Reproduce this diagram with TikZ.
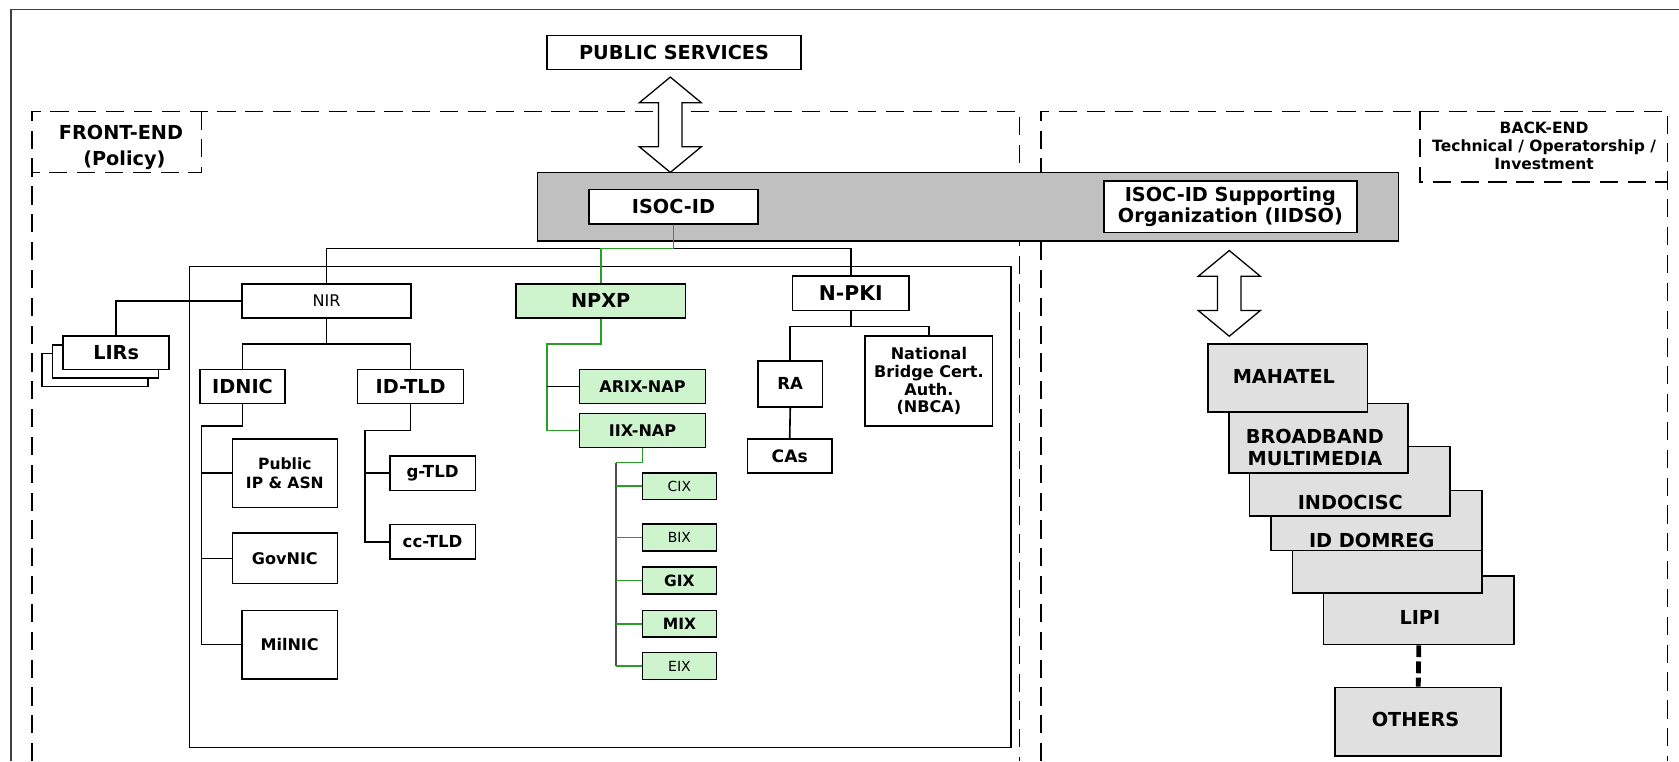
\documentclass[tikz,border=0pt]{standalone}
\usepackage{fontspec}
\setmainfont{DejaVu Sans}
\definecolor{barGray}{RGB}{192,192,192}
\definecolor{stackGray}{RGB}{224,224,224}
\definecolor{nxGreen}{RGB}{206,244,206}
\definecolor{lnGreen}{RGB}{40,160,40}
\tikzset{
  wh/.style 2 args={minimum width=#1pt, minimum height=#2pt},
  txt/.style 2 args={font=\bfseries\fontsize{#1}{#2}\selectfont},
  rtxt/.style 2 args={font=\fontsize{#1}{#2}\selectfont},
  box/.style={draw, line width=1.5pt, fill=white, inner sep=0pt, align=center},
  gbox/.style={box, fill=nxGreen},
  sbox/.style={draw, line width=1.5pt, fill=stackGray, inner sep=0pt},
  stxt/.style={txt={18}{20}, align=center},
  conn/.style={line width=1.5pt},
  gline/.style={line width=1.5pt, draw=lnGreen},
  area/.style={line width=1.3pt, dash pattern=on 17pt off 9pt},
  ixplain/.style={rtxt={13}{13}},
  ixbold/.style={txt={14.5}{14.5}}
}
\begin{document}
\begin{tikzpicture}[x=1pt, y=-1pt]
\useasboundingbox (0,0) rectangle (1568,711);

% frame and the two areas
\draw[line width=1.6pt, black!75] (10,711) -- (10,9) -- (1568,9);
\draw[area] (30,711) -- (30,104) -- (952,104) -- (952,711);
\draw[area] (188,104) -- (188,161) -- (30,161);
\draw[area] (972,711) -- (972,104) -- (1557,104) -- (1557,711);
\draw[area] (1326,104) -- (1326,170) -- (1557,170);
\node[txt={18}{24}, align=center] (frontlbl) at (113,138) {FRONT-END\\\ (Policy)};
\node[txt={14.5}{17}, align=center] (backlbl) at (1442,136) {BACK-END\\Technical / Operatorship /\\Investment};

% top
\node[box, wh={237}{32}, txt={18}{18}] (pub) at (629.5,49) {PUBLIC SERVICES};
\node[draw, line width=1.5pt, fill=barGray, wh={804}{64}] (bar) at (904,193) {};
\node[box, wh={158}{32}, txt={18}{18}] (isoc) at (629,193) {ISOC-ID};
\node[box, wh={236}{48}, txt={18}{20}] (iidso) at (1149,193) {ISOC-ID Supporting\\Organization (IIDSO)};

\foreach \cx/\ya/\yb in {626/72/161, 1148/234/314}
{
    \draw[line width=1.2pt, fill=white] (\cx,\ya) -- (\cx+29,\ya+24) -- (\cx+11,\ya+24) -- (\cx+11,\yb-24)
      -- (\cx+29,\yb-24) -- (\cx,\yb) -- (\cx-29,\yb-24) -- (\cx-11,\yb-24) -- (\cx-11,\ya+24) -- (\cx-29,\ya+24) -- cycle;
}

% policy side
\draw[conn] (177,249) rectangle (944,698);
\node[box, wh={158}{32}, rtxt={15}{15}] (nir) at (305,281) {NIR};
\foreach \i in {2,1}
{
    \node[box, wh={99}{31}] (lirs\i) at (108.5-10*\i,329.5+8*\i) {};
}
\node[box, wh={99}{31}, txt={18}{18}] (lirs) at (108.5,329.5) {LIRs};
\node[box, wh={79}{32}, txt={18}{18}] (idnic) at (226.5,361) {IDNIC};
\node[box, wh={99}{32}, txt={18}{18}] (idtld) at (383.5,361) {ID-TLD};
\node[box, wh={98}{64}, txt={14.5}{17}] (pubip) at (266,442) {Public\\IP \& ASN};
\node[box, wh={98}{47}, txt={15}{15}] (govnic) at (266,521.5) {GovNIC};
\node[box, wh={89}{64}, txt={15}{15}] (milnic) at (270.5,602) {MilNIC};
\node[box, wh={80}{32}, txt={15.5}{15.5}] (gtld) at (404,442) {g-TLD};
\node[box, wh={80}{32}, txt={15.5}{15.5}] (cctld) at (404,506) {cc-TLD};

\node[gbox, wh={158}{32}, txt={18}{18}] (npxp) at (561,281) {NPXP};
\node[gbox, wh={118}{32}, txt={15}{15}] (arixnap) at (600,361) {ARIX-NAP};
\node[gbox, wh={118}{32}, txt={15}{15}] (iixnap) at (600,402) {IIX-NAP};
\foreach \n/\t/\y/\s in {cix/CIX/454/ixplain, bix/BIX/502/ixplain, gix/GIX/542/ixbold, mix/MIX/582.5/ixbold, eix/EIX/622/ixplain}
{
    \node[gbox, wh={69}{25}, \s] (\n) at (634.5,\y) {\t};
}

\node[box, wh={109}{32}, txt={19}{19}] (npki) at (794.5,274) {N-PKI};
\node[box, wh={60}{43}, txt={15.5}{15.5}] (ra) at (738,358.5) {RA};
\node[box, wh={119}{84}, txt={15}{16.5}] (nbca) at (867.5,356) {National\\Bridge Cert.\\Auth.\\(NBCA)};
\node[box, wh={79}{32}, txt={16}{16}] (cas) at (737.5,426) {CAs};

\coordinate (hub) at (629,232);
\coordinate (nirb) at (305,321);
\coordinate (idspine) at (188,398);
\coordinate (tldspine) at (341,402);
\coordinate (npspine) at (511,321);
\coordinate (ixspine) at (575,432);
\coordinate (pkib) at (794.5,305);

\draw[conn] (nir.north) |- (hub) -| (npki.north);
\draw[gline] (isoc.south) -- (hub) -| (npxp.north);
\draw[conn] (nir.west) -| (lirs.north);
\draw[conn] (nir.south) -- (nirb);
\draw[conn] (idnic.north) |- (nirb) -| (idtld.north);
\draw[conn] (idnic.south) |- (idspine) |- (milnic.west);
\foreach \n in {pubip,govnic}
{
    \draw[conn] (\n.west) -- (\n.west -| idspine);
}
\draw[conn] (idtld.south) |- (tldspine) |- (cctld.west);
\draw[conn] (gtld.west) -- (gtld.west -| tldspine);
\draw[gline] (npxp.south) |- (npspine) |- (iixnap.west);
\draw[conn] (arixnap.west) -- (arixnap.west -| npspine);
\draw[gline] (iixnap.south) |- (ixspine);
\draw[conn, black!70] (ixspine) -- (ixspine |- eix.west);
\foreach \n in {cix,bix,gix,mix,eix}
{
    \draw[gline] (\n.west) -- (\n.west -| ixspine);
}
\draw[conn] (npki.south) -- (pkib);
\draw[conn] (ra.north) |- (pkib) -| (nbca.north);
\draw[conn] (ra.south) -- (cas.north);

% back-end stack
\foreach \n/\x/\y/\w/\h in {others/1324.5/674/155/64, lipi/1325/570/178/64, spare/1295.5/524/177/60,
  iddomreg/1285.5/486/197/56, indocisc/1260.5/449.5/187/65, broadband/1231.5/409.5/167/65, mahatel/1202.5/353/149/64}
{
    \node[sbox, wh={\w}{\h}] (\n) at (\x,\y) {};
}
\node[stxt] (mahatelt) at (1199,352) {MAHATEL};
\node[stxt] (broadbandt) at (1228,418) {BROADBAND\\MULTIMEDIA};
\node[stxt] (indocisct) at (1261,469) {INDOCISC};
\node[stxt] (iddomregt) at (1281,505) {ID DOMREG};
\node[stxt] (lipit) at (1326,577) {LIPI};
\node[stxt] (otherst) at (1322,672) {OTHERS};
\draw[line width=4.5pt, dash pattern=on 11pt off 4pt] (lipi.south) -- (others.north);

\end{tikzpicture}
\end{document}
